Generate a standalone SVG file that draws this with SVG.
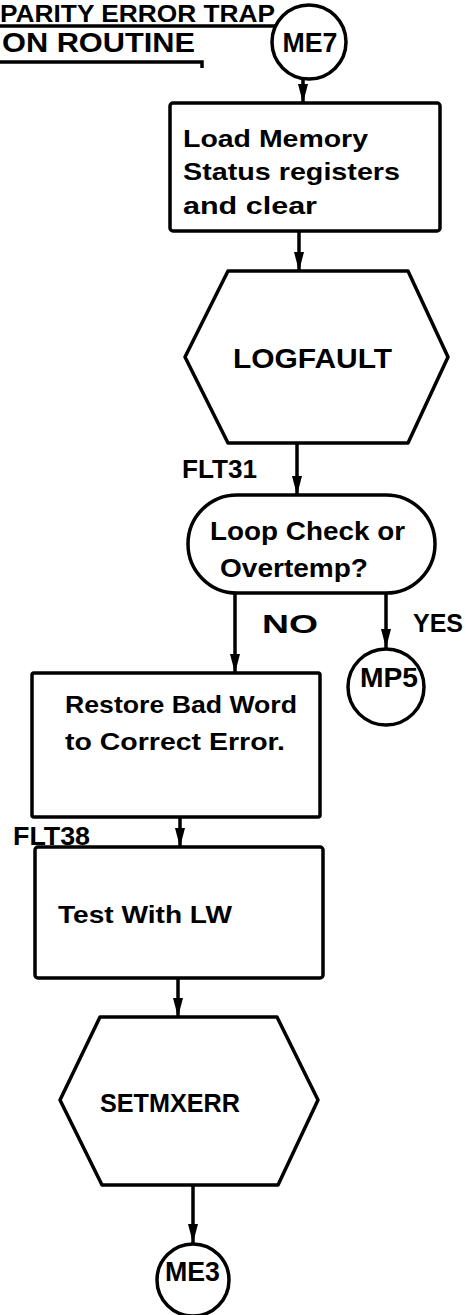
<svg xmlns="http://www.w3.org/2000/svg" width="466" height="1315" viewBox="0 0 466 1315">
<defs>
<style>
.n{fill:#fff;stroke:#000;stroke-width:3.5;stroke-linejoin:round}
.c{stroke:#000;stroke-width:3.5;fill:none}
.t{font-family:"Liberation Sans",Arial,sans-serif;font-weight:bold;fill:#000}
</style>
<marker id="ah" markerUnits="userSpaceOnUse" markerWidth="20" markerHeight="12" viewBox="0 0 20 12" refX="19" refY="6" orient="auto">
<path d="M0,1 L0,11 L19,6 Z" fill="#000"/>
</marker>
</defs>
<rect width="466" height="1315" fill="#fff"/>
<g id="title">
<text class="t" x="0" y="22" font-size="24" textLength="275" lengthAdjust="spacingAndGlyphs">PARITY ERROR TRAP</text>
<line class="c" x1="0" y1="26" x2="285" y2="26" stroke-width="2.5"/>
<text class="t" x="2" y="52" font-size="27" textLength="193" lengthAdjust="spacingAndGlyphs">ON ROUTINE</text>
<path class="c" d="M0,62 L202,62 L202,68" stroke-width="2.5"/>
</g>
<g id="connectors">
<line class="c" x1="303" y1="79" x2="303" y2="103" marker-end="url(#ah)"/>
<line class="c" x1="299" y1="231" x2="299" y2="271" marker-end="url(#ah)"/>
<line class="c" x1="297" y1="443" x2="297" y2="495" marker-end="url(#ah)"/>
<line class="c" x1="235" y1="593" x2="235" y2="673" marker-end="url(#ah)"/>
<line class="c" x1="386" y1="593" x2="386" y2="648" marker-end="url(#ah)"/>
<line class="c" x1="180" y1="817" x2="180" y2="847" marker-end="url(#ah)"/>
<line class="c" x1="178" y1="978" x2="178" y2="1017" marker-end="url(#ah)"/>
<line class="c" x1="193" y1="1185" x2="193" y2="1243" marker-end="url(#ah)"/>
<text class="t" x="262" y="633" font-size="26" textLength="56" lengthAdjust="spacingAndGlyphs">NO</text>
<text class="t" x="413" y="632" font-size="26" textLength="50" lengthAdjust="spacingAndGlyphs">YES</text>
<text class="t" x="182" y="478" font-size="26" textLength="75" lengthAdjust="spacingAndGlyphs">FLT31</text>
<text class="t" x="13" y="845" font-size="26" textLength="77" lengthAdjust="spacingAndGlyphs">FLT38</text>
</g>
<g id="ME7">
<circle class="n" cx="309" cy="42" r="37"/>
<text class="t" x="310" y="52" font-size="27" text-anchor="middle" textLength="55" lengthAdjust="spacingAndGlyphs">ME7</text>
</g>
<g id="load">
<rect class="n" x="170" y="103" width="270" height="128" rx="3"/>
<text class="t" x="183" y="147" font-size="24" textLength="185" lengthAdjust="spacingAndGlyphs">Load Memory</text>
<text class="t" x="183" y="180" font-size="24" textLength="217" lengthAdjust="spacingAndGlyphs">Status registers</text>
<text class="t" x="183" y="214" font-size="24" textLength="134" lengthAdjust="spacingAndGlyphs">and clear</text>
</g>
<g id="logfault">
<polygon class="n" points="228,271 408,271 448,357 408,443 228,443 185,357"/>
<text class="t" x="233" y="368" font-size="28" textLength="159" lengthAdjust="spacingAndGlyphs">LOGFAULT</text>
</g>
<g id="decision">
<rect class="n" x="188" y="495" width="247" height="98" rx="49"/>
<text class="t" x="210" y="540" font-size="26" textLength="195" lengthAdjust="spacingAndGlyphs">Loop Check or</text>
<text class="t" x="220" y="577" font-size="26" textLength="148" lengthAdjust="spacingAndGlyphs">Overtemp?</text>
</g>
<g id="MP5">
<circle class="n" cx="386" cy="687" r="38"/>
<text class="t" x="360" y="687" font-size="28" textLength="58" lengthAdjust="spacingAndGlyphs">MP5</text>
</g>
<g id="restore">
<rect class="n" x="32" y="673" width="288" height="144" rx="2"/>
<text class="t" x="65" y="713" font-size="24" textLength="232" lengthAdjust="spacingAndGlyphs">Restore Bad Word</text>
<text class="t" x="65" y="750" font-size="24" textLength="220" lengthAdjust="spacingAndGlyphs">to Correct Error.</text>
</g>
<g id="test">
<rect class="n" x="35" y="847" width="288" height="131" rx="3"/>
<text class="t" x="58" y="923" font-size="24" textLength="174" lengthAdjust="spacingAndGlyphs">Test With LW</text>
</g>
<g id="setmxerr">
<polygon class="n" points="100,1017 277,1017 318,1100 278,1185 102,1185 60,1100"/>
<text class="t" x="100" y="1112" font-size="26" textLength="140" lengthAdjust="spacingAndGlyphs">SETMXERR</text>
</g>
<g id="ME3">
<circle class="n" cx="193" cy="1280" r="36"/>
<text class="t" x="165" y="1281" font-size="27" textLength="55" lengthAdjust="spacingAndGlyphs">ME3</text>
</g>
</svg>
